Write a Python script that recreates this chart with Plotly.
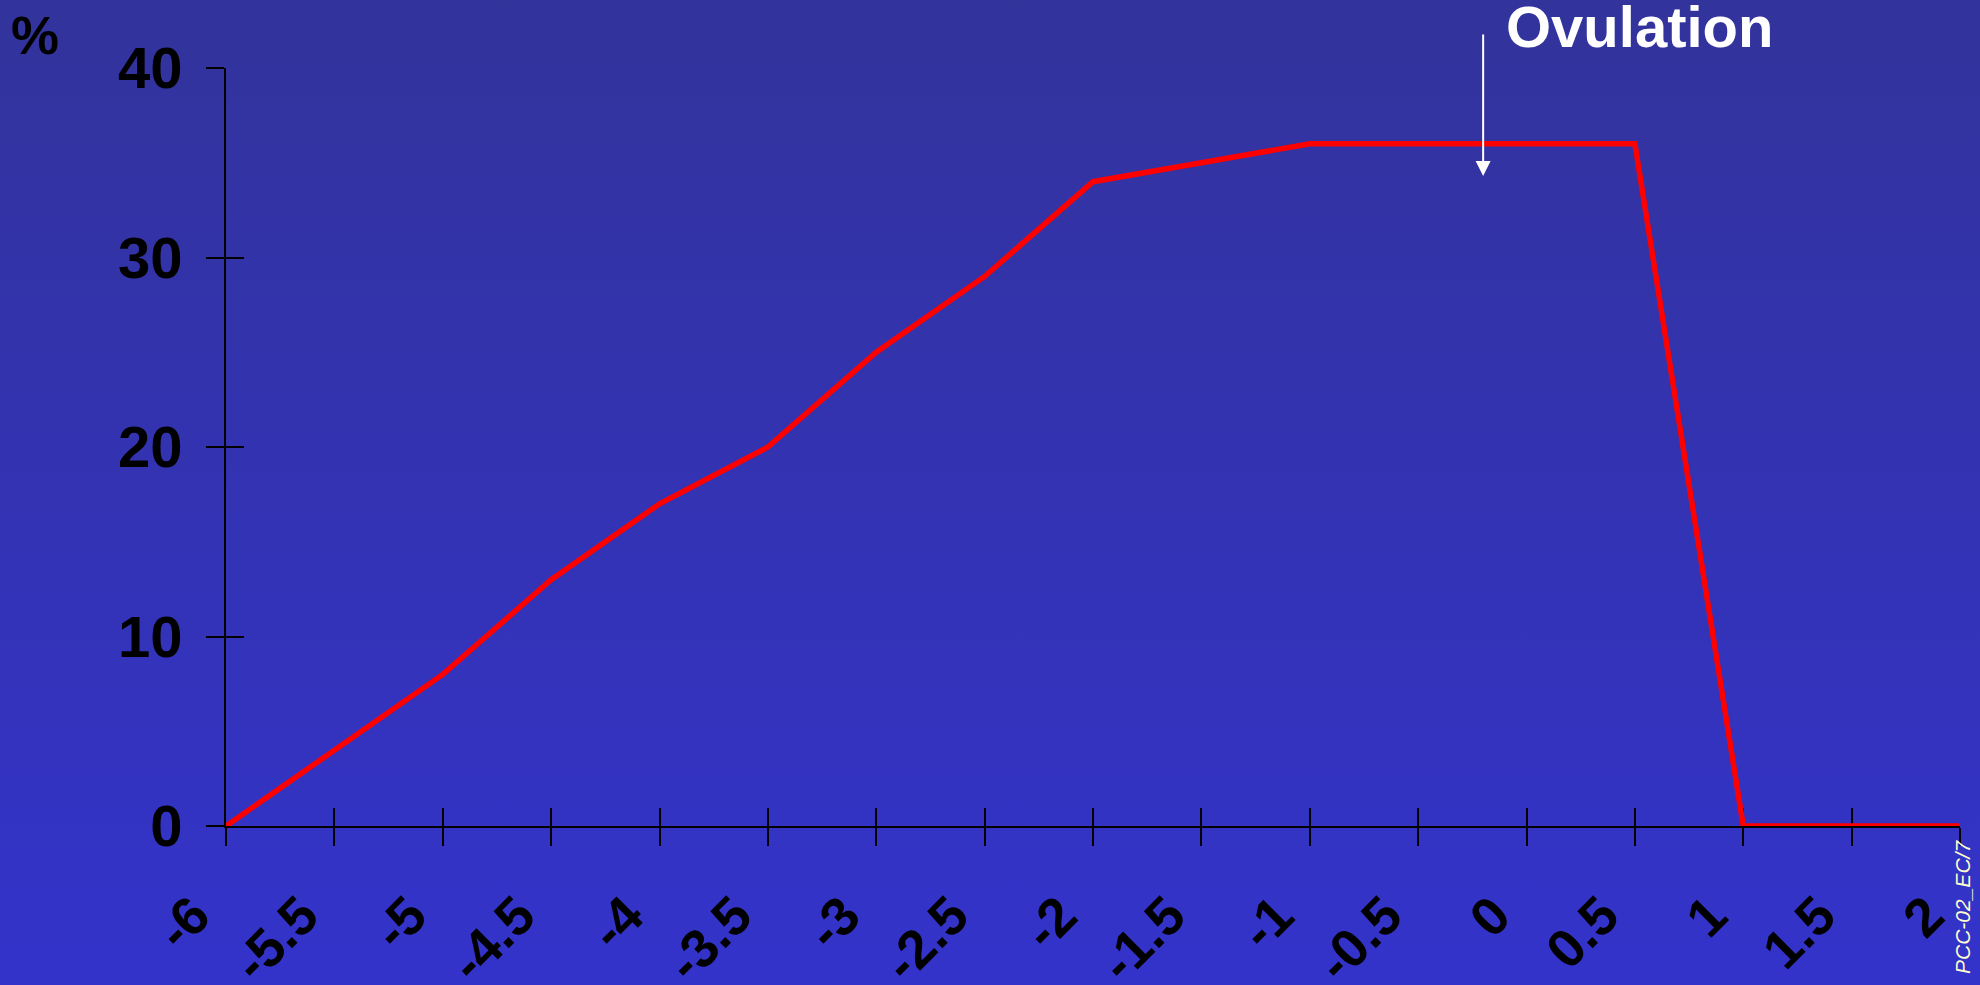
import base64
import plotly.graph_objects as go

# Days relative to ovulation and the corresponding percentage
days = [-6, -5.5, -5, -4.5, -4, -3.5, -3, -2.5, -2, -1.5, -1, -0.5, 0, 0.5, 1, 1.5, 2]
percent = [0, 4, 8, 13, 17, 20, 25, 29, 34, 35, 36, 36, 36, 36, 0, 0, 0]

x_ticks = [-6, -5.5, -5, -4.5, -4, -3.5, -3, -2.5, -2, -1.5, -1, -0.5, 0, 0.5, 1, 1.5, 2]
x_tick_labels = ["-6", "-5.5", "-5", "-4.5", "-4", "-3.5", "-3", "-2.5", "-2",
                 "-1.5", "-1", "-0.5", "0", "0.5", "1", "1.5", "2"]
y_ticks = [0, 10, 20, 30, 40]

ovulation_day = -0.2
ovulation_arrow = (41.85, 34.3)  # arrow start / tip in % units

W, H = 1980, 985
FONT = "Liberation Sans, Arial, sans-serif"
EPS = 1e-6  # keeps the end ticks inside the range

# vertical gradient backdrop
svg = (
    f'<svg xmlns="http://www.w3.org/2000/svg" width="{W}" height="{H}">'
    '<defs><linearGradient id="g" x1="0" y1="0" x2="0" y2="1">'
    '<stop offset="0" stop-color="#33339C"/>'
    '<stop offset="1" stop-color="#3333CB"/>'
    '</linearGradient></defs>'
    f'<rect width="{W}" height="{H}" fill="url(#g)"/></svg>'
)
bg_src = "data:image/svg+xml;base64," + base64.b64encode(svg.encode()).decode()

xdom = [226 / W, 1960 / W]
ydom = [1 - 826 / H, 1 - 68 / H]
xrange_ = [-6 - EPS, 2 + EPS]
yrange_ = [0 - EPS, 40 + EPS]

fig = go.Figure()
fig.add_trace(go.Scatter(
    x=days, y=percent, mode="lines",
    line=dict(color="#FF0000", width=5.5),
    cliponaxis=False, hoverinfo="skip", showlegend=False,
))
# companion trace for the overlay axes (inner half of the cross ticks)
fig.add_trace(go.Scatter(
    x=days, y=percent, mode="lines", xaxis="x2", yaxis="y2",
    line=dict(color="rgba(0,0,0,0)", width=0),
    hoverinfo="skip", showlegend=False,
))

axis_common = dict(
    showgrid=False, zeroline=False, automargin=False,
    linecolor="black", linewidth=2,
    tickcolor="black", tickwidth=2, ticklen=18,
    layer="below traces",
)

fig.update_layout(
    width=W, height=H,
    template="none",
    margin=dict(l=0, r=0, t=0, b=0),
    paper_bgcolor="#3333B0",
    plot_bgcolor="rgba(0,0,0,0)",
    showlegend=False,
    images=[dict(source=bg_src, xref="paper", yref="paper", x=0, y=1,
                 sizex=1, sizey=1, sizing="stretch", layer="below",
                 xanchor="left", yanchor="top")],
    xaxis=dict(
        **axis_common, domain=xdom, range=xrange_, anchor="y",
        showline=True, ticks="outside",
        tickmode="array", tickvals=x_ticks, ticktext=x_tick_labels,
        tickangle=-45, ticklabelstandoff=16, ticklabelshift=-32,
        tickfont=dict(family=FONT, size=54, color="black", weight="bold"),
    ),
    yaxis=dict(
        **axis_common, domain=ydom, range=yrange_, anchor="x",
        showline=True, ticks="outside",
        tickmode="array", tickvals=y_ticks,
        ticklabelstandoff=12,
        tickfont=dict(family=FONT, size=58, color="black", weight="bold"),
    ),
    xaxis2=dict(
        **axis_common, domain=xdom, range=xrange_, anchor="y2",
        overlaying="x", showline=False, ticks="inside",
        tickmode="array", tickvals=x_ticks, showticklabels=False,
    ),
    yaxis2=dict(
        **axis_common, domain=ydom, range=yrange_, anchor="x2",
        overlaying="y", showline=False, ticks="inside",
        tickmode="array", tickvals=y_ticks, showticklabels=False,
    ),
)

fig.add_annotation(
    x=ovulation_day, y=ovulation_arrow[1], ax=ovulation_day, ay=ovulation_arrow[0],
    xref="x", yref="y", axref="x", ayref="y",
    showarrow=True, arrowhead=2, arrowsize=1.5, arrowwidth=2, arrowcolor="white",
    text="",
)
fig.add_annotation(
    x=1639 / W, y=1 - 27 / H, xref="paper", yref="paper",
    xanchor="center", yanchor="middle", showarrow=False,
    text="Ovulation",
    font=dict(family=FONT, size=58, color="white", weight="bold"),
)
fig.add_annotation(
    x=35 / W, y=1 - 35 / H, xref="paper", yref="paper",
    xanchor="center", yanchor="middle", showarrow=False,
    text="%",
    font=dict(family=FONT, size=54, color="black", weight="bold"),
)
fig.add_annotation(
    x=1962 / W, y=1 - 907 / H, xref="paper", yref="paper",
    xanchor="center", yanchor="middle", showarrow=False,
    text="PCC-02_EC/7", textangle=-90,
    font=dict(family=FONT, size=21, color="#FFFFCC", style="italic"),
)

fig.write_html("out.html")
